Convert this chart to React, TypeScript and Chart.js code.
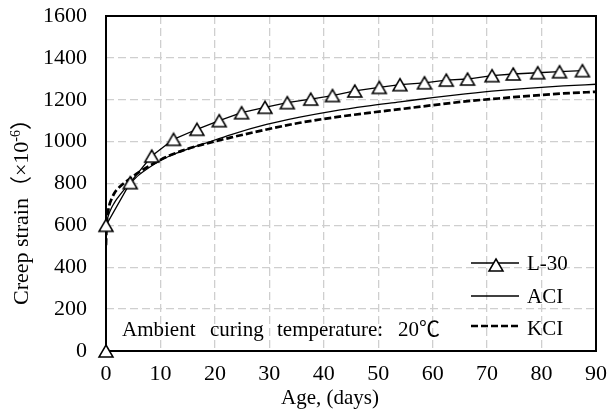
import React, { useEffect, useRef } from "react";
import { Chart, registerables } from "chart.js";

Chart.register(...registerables);

const FONT = '"Liberation Serif", "Times New Roman", "Noto Sans CJK SC", serif';

// Axis ticks
const xTicks = [0, 10, 20, 30, 40, 50, 60, 70, 80, 90];
const yTicks = [0, 200, 400, 600, 800, 1000, 1200, 1400, 1600];

// L-30 measured creep strain (x10^-6)
const l30Age = [0, 0, 4.45, 8.4, 12.4, 16.7, 20.8, 24.9, 29.2, 33.3, 37.6, 41.6, 45.7, 50.2, 54.0, 58.5, 62.5, 66.4, 70.9, 74.8, 79.3, 83.3, 87.5];
const l30Strain = [0, 600, 804, 931, 1011, 1059, 1100, 1138, 1164, 1186, 1203, 1220, 1242, 1259, 1272, 1281, 1294, 1299, 1315, 1323, 1329, 1334, 1339];

// ACI model
const aciAge = [0, 0.25, 0.5, 1, 1.5, 2, 3, 4, 5, 6, 8, 10, 12, 14, 18, 23, 29.5, 35.6, 41.7, 47.9, 54, 60, 66, 72, 78, 84, 90];
const aciStrain = [600, 630, 652, 683, 706, 726, 760, 790, 815, 840, 878, 910, 935, 955, 990, 1034, 1082, 1117, 1146, 1170, 1190, 1210, 1228, 1244, 1256, 1266, 1274];

// KCI model
const kciAge = [0, 0.1, 0.3, 0.6, 1, 1.5, 2, 3, 4, 5, 6, 8, 10, 12, 14, 18, 23, 29.5, 35.6, 41.7, 47.9, 54, 60, 66, 72, 78, 84, 90];
const kciStrain = [505, 590, 650, 695, 725, 752, 770, 795, 815, 835, 853, 885, 913, 937, 957, 988, 1020, 1058, 1090, 1115, 1136, 1155, 1174, 1192, 1206, 1219, 1230, 1238];

const seriesLabels = ["L-30", "ACI", "KCI"];
const xTitle = "Age, (days)";
const yTitleMain = "Creep strain";
const yTitleOpen = "\uFF08\u00D710";
const yTitleSup = "-6";
const yTitleClose = "\uFF09";
const noteWords = ["Ambient", "curing", "temperature:", "20\u2103"];

function makeTriangle(): HTMLCanvasElement {
  const c = document.createElement("canvas");
  c.width = 18;
  c.height = 16;
  const g = c.getContext("2d")!;
  g.beginPath();
  g.moveTo(9, 2);
  g.lineTo(16, 14);
  g.lineTo(2, 14);
  g.closePath();
  g.fillStyle = "#ffffff";
  g.fill();
  g.lineWidth = 1.5;
  g.strokeStyle = "#000000";
  g.stroke();
  return c;
}

const toXY = (xs: number[], ys: number[]) => xs.map((x, i) => ({ x, y: ys[i] }));

export default function App() {
  const ref = useRef<HTMLCanvasElement | null>(null);

  useEffect(() => {
    if (!ref.current) return;
    const tri = makeTriangle();

    const decor = {
      id: "decor",
      beforeDatasetsDraw(chart: any) {
        const { ctx, chartArea } = chart;
        ctx.save();
        ctx.strokeStyle = "#000";
        ctx.lineWidth = 2;
        ctx.strokeRect(chartArea.left, chartArea.top, chartArea.right - chartArea.left, chartArea.bottom - chartArea.top);
        ctx.restore();
      },
      afterDraw(chart: any) {
        const { ctx } = chart;
        ctx.save();
        ctx.fillStyle = "#000";
        ctx.font = `21px ${FONT}`;
        ctx.textBaseline = "alphabetic";
        ctx.textAlign = "left";

        // Annotation text
        const noteX = [122, 210, 277, 398];
        noteWords.forEach((w, i) => ctx.fillText(w, noteX[i], 336));

        // X title
        ctx.textAlign = "center";
        ctx.textBaseline = "middle";
        ctx.fillText(xTitle, 330, 398);

        // Y title
        ctx.save();
        ctx.translate(28, 305);
        ctx.rotate(-Math.PI / 2);
        ctx.textAlign = "left";
        ctx.textBaseline = "alphabetic";
        let px = 0;
        ctx.font = `22px ${FONT}`;
        ctx.fillText(yTitleMain, px, 0);
        px += ctx.measureText(yTitleMain).width;
        ctx.fillText(yTitleOpen, px, 0);
        px += ctx.measureText(yTitleOpen).width;
        ctx.font = `14px ${FONT}`;
        ctx.fillText(yTitleSup, px, -8);
        px += ctx.measureText(yTitleSup).width;
        ctx.font = `22px ${FONT}`;
        ctx.fillText(yTitleClose, px, 0);
        ctx.restore();

        // Legend
        ctx.font = `21px ${FONT}`;
        const rows = [263, 296, 326];
        const textBase = [270, 303, 335];
        chart.data.datasets.forEach((ds: any, i: number) => {
          ctx.save();
          ctx.strokeStyle = ds.borderColor;
          ctx.lineWidth = ds.borderWidth;
          ctx.setLineDash(ds.borderDash || []);
          ctx.beginPath();
          ctx.moveTo(471, rows[i]);
          ctx.lineTo(519, rows[i]);
          ctx.stroke();
          ctx.restore();
          if (ds.pointRadius > 0) {
            ctx.drawImage(tri, 496 - tri.width / 2, rows[i] + 2 - tri.height / 2);
          }
          ctx.textAlign = "left";
          ctx.textBaseline = "alphabetic";
          ctx.fillText(ds.label, 527, textBase[i]);
        });
        ctx.restore();
      },
    };

    const gridOpts = {
      color: "#cfcfcf",
      lineWidth: 1.3,
      drawTicks: false,
      borderDash: [8, 4],
    };

    const chart = new Chart(ref.current, {
      type: "line",
      data: {
        datasets: [
          {
            label: seriesLabels[0],
            data: toXY(l30Age, l30Strain),
            borderColor: "#000",
            borderWidth: 1.3,
            pointStyle: tri as any,
            pointRadius: 8,
            tension: 0,
            clip: false as any,
          },
          {
            label: seriesLabels[1],
            data: toXY(aciAge, aciStrain),
            borderColor: "#000",
            borderWidth: 1.3,
            pointRadius: 0,
            cubicInterpolationMode: "monotone",
          },
          {
            label: seriesLabels[2],
            data: toXY(kciAge, kciStrain),
            borderColor: "#000",
            borderWidth: 2.7,
            borderDash: [7, 3],
            pointRadius: 0,
            cubicInterpolationMode: "monotone",
          },
        ],
      },
      options: {
        animation: false,
        responsive: false,
        layout: { padding: { left: 0, right: 16, top: 16, bottom: 0 } },
        plugins: { legend: { display: false }, tooltip: { enabled: false } },
        scales: {
          x: {
            type: "linear",
            min: 0,
            max: 90,
            afterBuildTicks: (s: any) => {
              s.ticks = xTicks.map((v) => ({ value: v }));
            },
            afterFit: (s: any) => {
              s.height = 68;
              s.paddingLeft = 0;
              s.paddingRight = 0;
              s.paddingTop = 0;
              s.paddingBottom = 0;
            },
            grid: gridOpts as any,
            border: { display: false, dash: [8, 4] } as any,
            ticks: {
              font: { family: FONT, size: 22 },
              color: "#000",
              padding: 10,
              maxRotation: 0,
              autoSkip: false,
              callback: (v: any) => String(v),
            },
          },
          y: {
            type: "linear",
            min: 0,
            max: 1600,
            afterBuildTicks: (s: any) => {
              s.ticks = yTicks.map((v) => ({ value: v }));
            },
            afterFit: (s: any) => {
              s.width = 106;
              s.paddingLeft = 0;
              s.paddingRight = 0;
              s.paddingTop = 0;
              s.paddingBottom = 0;
            },
            grid: gridOpts as any,
            border: { display: false, dash: [8, 4] } as any,
            ticks: {
              font: { family: FONT, size: 22 },
              color: "#000",
              padding: 19,
              autoSkip: false,
              callback: (v: any) => String(v),
            },
          },
        },
      },
      plugins: [decor],
    });
    return () => chart.destroy();
  }, []);

  return (
    <div style={{ position: "fixed", left: 0, top: 0, width: 612, height: 419, background: "#fff" }}>
      <canvas ref={ref} width={612} height={419} style={{ width: 612, height: 419 }} />
    </div>
  );
}
